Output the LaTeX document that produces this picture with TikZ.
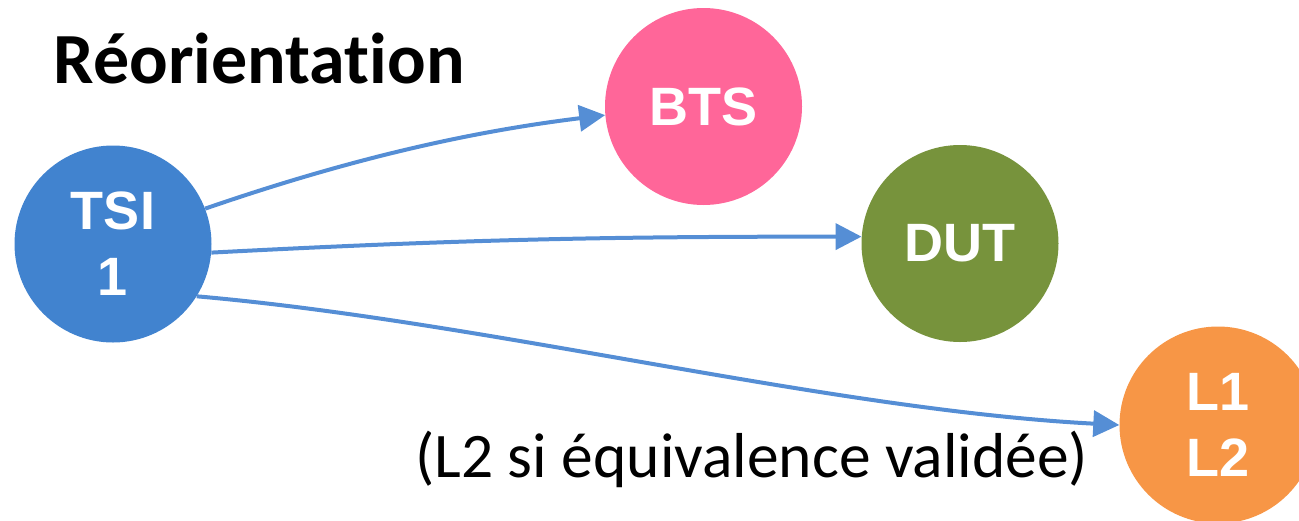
\documentclass[tikz,border=0pt]{standalone}
\usepackage{fontspec}
\setmainfont{Carlito}[Ligatures=NoCommon]
\newfontfamily\arialfont{Liberation Sans}
\usetikzlibrary{arrows.meta}
\definecolor{tsiblue}{RGB}{65,131,207}
\definecolor{btspink}{RGB}{255,102,153}
\definecolor{dutgreen}{RGB}{119,147,60}
\definecolor{licorange}{RGB}{247,150,70}
\definecolor{linkblue}{RGB}{85,142,213}

\begin{document}
\begin{tikzpicture}[
        x=1pt,y=-1pt,
        filiere/.style={circle,minimum size=197pt,inner sep=0pt,text=white,align=center,
            font=\arialfont\bfseries\fontsize{54}{66}\selectfont},
        choix/.style={-{Triangle[length=26pt,width=26pt]},linkblue,line width=4pt}
    ]
    \useasboundingbox (0,0) rectangle (1299,520);
    \node[anchor=base west,font=\bfseries\fontsize{72}{80}\selectfont] (titre) at (50,83) {Réorientation};

    \node[filiere,fill=tsiblue] (tsi) at (113,244) {TSI\\1};
    \node[filiere,fill=btspink] (bts) at (703.5,106.5) {BTS};
    \node[filiere,fill=dutgreen] (dut) at (960,243.5) {DUT};
    \node[filiere,fill=licorange] (lic) at (1218,425) {L1\\L2};

    % the three ways out of the first year
    \draw[choix] (tsi.21) to[out=19,in=187,looseness=0.9] (bts.185);
    \draw[choix] (tsi.-5) to[out=3,in=180] (dut.176);
    \draw[choix] (tsi.-32) to[out=-5,in=177,looseness=0.8] (lic.180);

    \node[anchor=base west,font=\fontsize{63.5}{66}\selectfont] (note) at (412,477) {(L2 si équivalence validée)};
\end{tikzpicture}
\end{document}
